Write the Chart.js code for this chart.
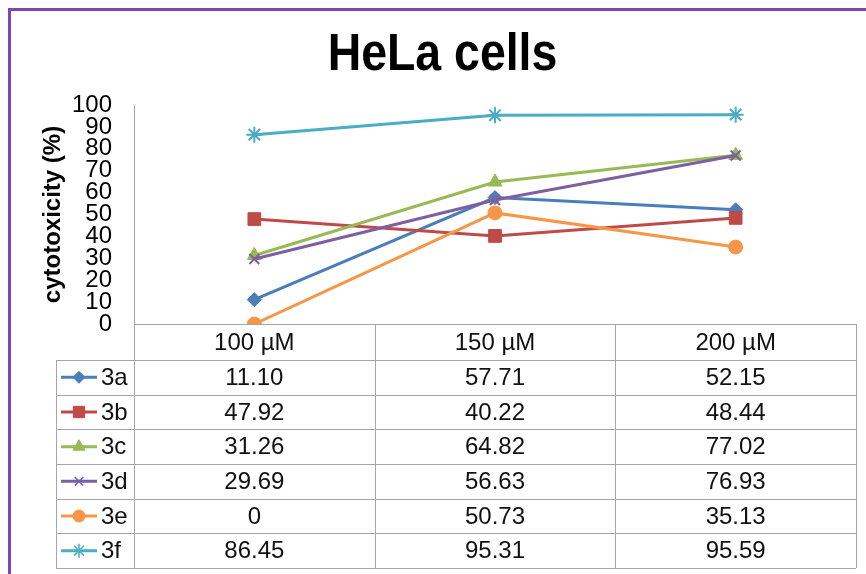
<!DOCTYPE html>
<html>
<head>
<meta charset="utf-8">
<script src="https://cdn.jsdelivr.net/npm/chart.js"></script>
<style>
  body { margin: 0; background: #fff; overflow: hidden; }
  #wrap { position: relative; width: 866px; height: 574px; }
  #frame { position: absolute; left: 8px; top: 8px; width: 900px; height: 600px;
           border: 3px solid #7E44B0; pointer-events: none; }
</style>
</head>
<body>
<div id="wrap">
  <canvas id="chart" width="866" height="574"></canvas>
  <div id="frame"></div>
</div>
<script>
// chart data
const categories = ['100 µM', '150 µM', '200 µM'];
const seriesNames = ['3a', '3b', '3c', '3d', '3e', '3f'];
const s3a = [11.10, 57.71, 52.15];
const s3b = [47.92, 40.22, 48.44];
const s3c = [31.26, 64.82, 77.02];
const s3d = [29.69, 56.63, 76.93];
const s3e = [0, 50.73, 35.13];
const s3f = [86.45, 95.31, 95.59];
const yTicks = [0, 10, 20, 30, 40, 50, 60, 70, 80, 90, 100];

const seriesValues = [s3a, s3b, s3c, s3d, s3e, s3f];
const colors = ['#4A7EBB', '#BE4B48', '#98B954', '#7D60A0', '#F79646', '#4BACC6'];
const markers = ['rectRot', 'rect', 'triangle', 'crossRot', 'circle', 'star'];
const radii = [7, 9, 8, 7, 7, 8];

const FONT = '"Liberation Sans", Arial, sans-serif';
const GRID = '#A6A6A6';

const isLineMarker = m => m === 'crossRot' || m === 'star';

const datasets = seriesNames.map((name, i) => ({
  label: name,
  data: seriesValues[i],
  borderColor: colors[i],
  backgroundColor: colors[i],
  borderWidth: 3,
  pointStyle: markers[i],
  pointRadius: radii[i],
  pointBackgroundColor: colors[i],
  pointBorderColor: colors[i],
  pointBorderWidth: isLineMarker(markers[i]) ? 2 : 1,
  tension: 0,
  order: seriesNames.length - i   // later series drawn on top, like Excel
}));

function fmt(v) {
  return v === 0 ? '0' : v.toFixed(2);
}

// title + data table under the plot, laid out on the x scale
const dataTable = {
  id: 'dataTable',
  beforeDraw(chart) {
    const ctx = chart.ctx;
    ctx.save();
    ctx.fillStyle = '#fff';
    ctx.fillRect(0, 0, chart.width, chart.height);
    // title, slightly condensed like the original
    ctx.fillStyle = '#000';
    ctx.font = 'bold 51px ' + FONT;
    ctx.textAlign = 'center';
    ctx.textBaseline = 'alphabetic';
    ctx.translate(442.5, 70);
    ctx.scale(0.91, 1);
    ctx.fillText('HeLa cells', 0, 0);
    ctx.restore();
  },
  afterDraw(chart) {
    const ctx = chart.ctx;
    const xs = chart.scales.x;
    const top = chart.chartArea.bottom;
    const left = xs.left, right = xs.right;
    const headH = 36, rowH = 34.67;
    const keyLeft = 56;
    const bottom = top + headH + rowH * seriesNames.length;
    const step = (right - left) / categories.length;

    ctx.save();
    ctx.strokeStyle = GRID;
    ctx.lineWidth = 1;
    ctx.beginPath();
    ctx.moveTo(left, top + 0.5); ctx.lineTo(right, top + 0.5);
    for (let r = 0; r <= seriesNames.length; r++) {
      const y = Math.round(top + headH + r * rowH) + 0.5;
      ctx.moveTo(keyLeft, y); ctx.lineTo(right, y);
    }
    for (let c = 0; c <= categories.length; c++) {
      const x = Math.round(left + c * step) + 0.5;
      ctx.moveTo(x, top); ctx.lineTo(x, bottom);
    }
    ctx.moveTo(keyLeft + 0.5, top + headH); ctx.lineTo(keyLeft + 0.5, bottom);
    ctx.stroke();

    ctx.font = '24px ' + FONT;
    ctx.textBaseline = 'middle';
    ctx.textAlign = 'center';
    ctx.fillStyle = '#111';
    categories.forEach((c, j) => {
      ctx.fillText(c, xs.getPixelForValue(j), top + headH / 2 + 1);
    });

    seriesNames.forEach((name, i) => {
      const cy = top + headH + rowH * (i + 0.5);
      ctx.textAlign = 'center';
      ctx.fillStyle = '#111';
      seriesValues[i].forEach((v, j) => {
        ctx.fillText(fmt(v), xs.getPixelForValue(j), cy + 1);
      });
      // legend key
      ctx.strokeStyle = colors[i];
      ctx.fillStyle = colors[i];
      ctx.lineWidth = 3;
      ctx.beginPath();
      ctx.moveTo(61, cy); ctx.lineTo(97, cy);
      ctx.stroke();
      ctx.lineWidth = isLineMarker(markers[i]) ? 1.5 : 1;
      Chart.helpers.drawPoint(ctx, {
        pointStyle: markers[i],
        radius: radii[i] - 1,
        borderWidth: ctx.lineWidth,
        rotation: 0
      }, 79, cy);
      ctx.textAlign = 'left';
      ctx.fillStyle = '#111';
      ctx.fillText(name, 101, cy + 1);
    });
    ctx.restore();
  }
};

new Chart(document.getElementById('chart'), {
  type: 'line',
  data: { labels: categories, datasets },
  plugins: [dataTable],
  options: {
    responsive: false,
    devicePixelRatio: 1,
    animation: false,
    layout: { padding: { left: 0, right: 9, top: 105, bottom: 0 } },
    plugins: {
      legend: { display: false },
      tooltip: { enabled: false },
      title: { display: false }
    },
    scales: {
      x: {
        type: 'category',
        offset: true,
        grid: { display: false },
        border: { display: false },
        ticks: { display: false },
        afterFit(scale) { scale.height = 250; }
      },
      y: {
        min: 0,
        max: 100,
        afterBuildTicks(scale) { scale.ticks = yTicks.map(v => ({ value: v })); },
        grid: { display: false, drawTicks: false },
        border: { display: true, color: GRID, width: 1 },
        ticks: {
          autoSkip: false,
          padding: 22,
          color: '#000',
          font: { family: FONT, size: 24 }
        },
        title: {
          display: true,
          text: 'cytotoxicity (%)',
          color: '#000',
          font: { family: FONT, size: 24, weight: 'bold' },
          padding: { top: 39, bottom: 0 }
        },
        afterFit(scale) { scale.width = 134; }
      }
    }
  }
});
</script>
</body>
</html>
